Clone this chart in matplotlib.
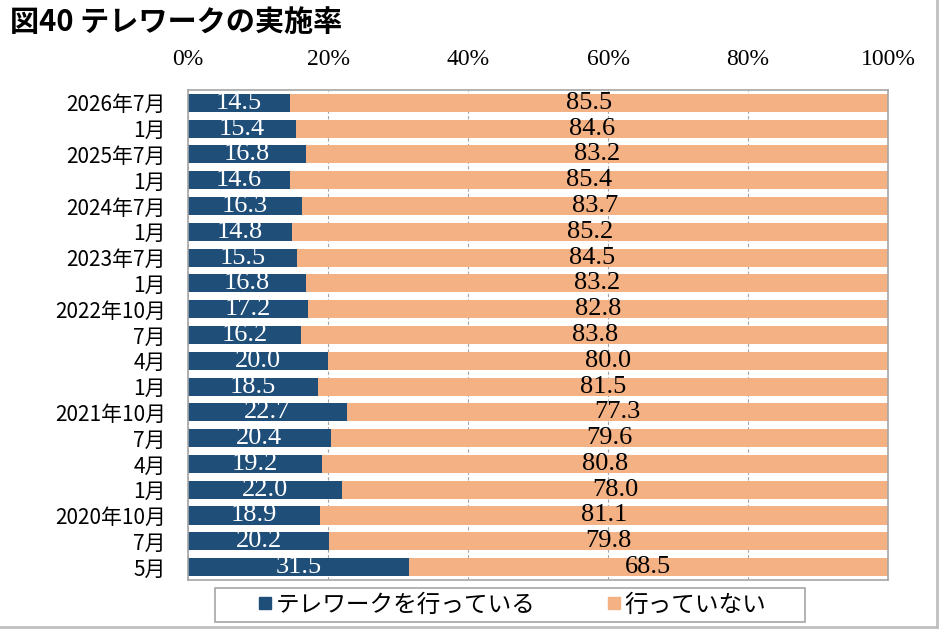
import numpy as np
import matplotlib
matplotlib.use('Agg')
import matplotlib.pyplot as plt
from matplotlib.lines import Line2D
from matplotlib.patches import Rectangle

plt.rcParams['font.family'] = ['Noto Sans CJK JP', 'DejaVu Sans']

# データ (上から順)
periods = ['2026年7月', '1月', '2025年7月', '1月', '2024年7月', '1月', '2023年7月', '1月',
           '2022年10月', '7月', '4月', '1月', '2021年10月', '7月', '4月', '1月',
           '2020年10月', '7月', '5月']
doing = [14.5, 15.4, 16.8, 14.6, 16.3, 14.8, 15.5, 16.8, 17.2, 16.2, 20.0, 18.5,
         22.7, 20.4, 19.2, 22.0, 18.9, 20.2, 31.5]
not_doing = [85.5, 84.6, 83.2, 85.4, 83.7, 85.2, 84.5, 83.2, 82.8, 83.8, 80.0, 81.5,
             77.3, 79.6, 80.8, 78.0, 81.1, 79.8, 68.5]
xticks = [0, 20, 40, 60, 80, 100]
series_names = ['テレワークを行っている', '行っていない']

c_blue = '#1F4E79'
c_orange = '#F4B183'
c_frame = '#A6A6A6'
serif = 'Liberation Serif'

fig = plt.figure(figsize=[9.4, 6.34], dpi=100)
ax = fig.add_axes([0.2, 0.0852, 0.7447, 0.773])

y = np.arange(len(periods))
ax.barh(y, doing, height=0.7, color=c_blue, zorder=2)
ax.barh(y, not_doing, left=doing, height=0.7, color=c_orange, zorder=2)

for i in range(len(periods)):
    ax.text(doing[i] / 2, y[i], f'{doing[i]:.1f}', ha='center', va='center',
            color='white', fontsize=19, family=serif, zorder=3)
    ax.text(doing[i] + not_doing[i] / 2, y[i], f'{not_doing[i]:.1f}', ha='center',
            va='center', color='black', fontsize=19, family=serif, zorder=3)

ax.set_xlim(0, 100)
ax.set_ylim(len(periods) - 0.5, -0.5)
ax.set_yticks(y)
ax.set_yticklabels(periods, fontsize=15)
ax.set_xticks(xticks)
ax.set_xticklabels([f'{v}%' for v in xticks], family=serif, fontsize=17)
ax.xaxis.tick_top()
ax.tick_params(axis='x', length=0, pad=14)
ax.tick_params(axis='y', length=0, pad=16)
ax.grid(axis='x', color=c_frame, linestyle=(0, (3, 2)), linewidth=0.8, zorder=0)
for s in ax.spines.values():
    s.set_color(c_frame)
    s.set_linewidth(1.2)

# 凡例 (枠は別に描く)
handles = [Line2D([], [], marker='s', linestyle='none', color=c_blue, markersize=9),
           Line2D([], [], marker='s', linestyle='none', color=c_orange, markersize=9)]
fig.legend(handles, series_names, loc='center', bbox_to_anchor=(0.545, 0.0457),
           ncol=2, fontsize=17, frameon=False,
           handlelength=0.6, handletextpad=0.15, columnspacing=3.0,
           borderpad=0.1, borderaxespad=0)
fig.add_artist(Rectangle((215 / 940, 12 / 634), 590 / 940, 34 / 634,
                         transform=fig.transFigure, fill=False,
                         edgecolor=c_frame, linewidth=1.2))

# タイトル
fig.text(0.011, 0.965, '図40 テレワークの実施率', fontsize=21, fontweight='bold',
         ha='left', va='center')

# 外枠
fig.add_artist(Line2D([0.9968, 0.9968], [0.011, 1.0], color='#BFBFBF', linewidth=2))
fig.add_artist(Line2D([0, 0.9968], [0.011, 0.011], color='#BFBFBF', linewidth=2))

fig.savefig('out.png', dpi=100)
